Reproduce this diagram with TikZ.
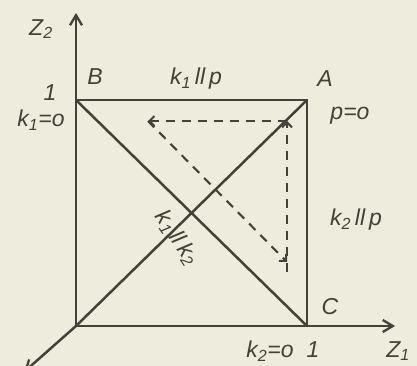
\documentclass[tikz,border=0pt]{standalone}
\usepackage{fontspec}
\setmainfont{Liberation Sans}
\usetikzlibrary{arrows.meta}
\definecolor{paper}{RGB}{238,236,220}
\definecolor{ink}{RGB}{66,66,56}
\tikzset{
  axis/.style={ink,line width=2.5pt,-{Straight Barb[length=10pt,width=12pt,line width=2.3pt]}},
  edge/.style={ink,line width=2.5pt},
  dasharrow/.style={ink,line width=2.1pt,dash pattern=on 9pt off 7pt,-{Straight Barb[length=5pt,width=10pt,line width=2pt]}},
  lbl/.style={ink,font=\fontsize{23}{23}\selectfont\itshape,inner sep=0pt},
}
\newcommand{\sub}[1]{\textsubscript{#1}}
\begin{document}
\begin{tikzpicture}[x=1pt,y=-1pt]
\fill[paper] (0,0) rectangle (417,366);
\useasboundingbox (0,0) rectangle (417,366);
\clip (0,0) rectangle (417,366);
\coordinate (O) at (76,326);
\coordinate (B) at (76,100);
\coordinate (A) at (307,100);
\coordinate (C) at (307,326);
\coordinate (Z2) at (76,13);
\coordinate (Z1) at (395,326);
\coordinate (Z3) at (24,372);
\coordinate (TL) at (148,121);
\coordinate (TR) at (287,121);
\coordinate (BR) at (287,262);
\draw[axis] (O) -- (Z2);
\draw[axis] (O) -- (Z1);
\draw[axis] (O) -- (Z3);
\draw[edge] (B) -- (A) -- (C);
\draw[edge] (O) -- (A);
\draw[edge] (B) -- (C);
\draw[dasharrow] (TL) -- (BR);
\draw[dasharrow] ([yshift=-10pt]BR) -- (TR);
\draw[dasharrow] (TR) -- (TL);
\node[lbl] (lz2) at (41,29) {Z\sub{2}};
\node[lbl] (lB) at (95,77) {B};
\node[lbl] (l1) at (50,93) {1};
\node[lbl] (lk1) at (41,120) {k\sub{1}=o};
\node[lbl] (lk1p) at (196,79) {k\sub{1}\,ll\,p};
\node[lbl] (lA) at (325,79) {A};
\node[lbl] (lp) at (350,116) {p=o};
\node[lbl] (lk2p) at (356,220) {k\sub{2}\,ll\,p};
\node[lbl] (lC) at (330,307) {C};
\node[lbl] (lk2) at (270,351) {k\sub{2}=o};
\node[lbl] (lone) at (313,350) {1};
\node[lbl] (lz1) at (398,351) {Z\sub{1}};
\node[lbl,rotate=-56] (lk12) at (177,238) {k\sub{1}\,ll\,k\sub{2}};
\end{tikzpicture}
\end{document}
